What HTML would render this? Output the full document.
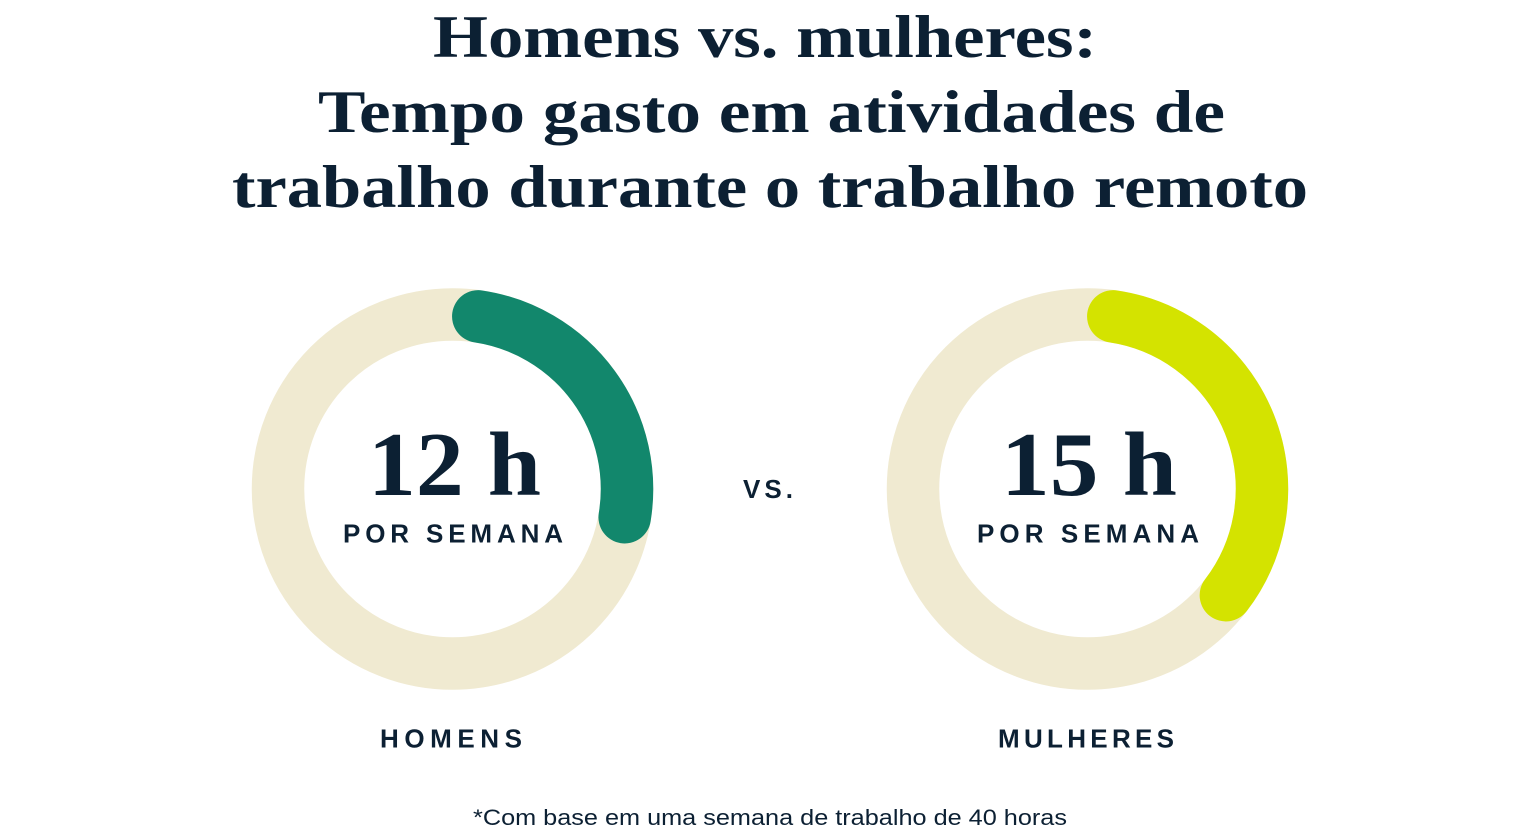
<!DOCTYPE html>
<html>
<head>
<meta charset="utf-8">
<style>
  html, body { margin: 0; padding: 0; background: #ffffff; }
  body { width: 1540px; height: 840px; overflow: hidden; }
  svg { display: block; }
  .title { font-family: "Liberation Serif", serif; font-weight: bold; font-size: 60px; fill: #0c2033; }
  .num { font-family: "Liberation Serif", serif; font-weight: bold; font-size: 91px; fill: #0c2033; }
  .lab { font-family: "Liberation Sans", sans-serif; font-weight: bold; font-size: 26px; fill: #0c2033; }
  .foot { font-family: "Liberation Sans", sans-serif; font-size: 22px; fill: #0c2033; }
</style>
</head>
<body>
<svg width="1540" height="840" viewBox="0 0 1540 840" xmlns="http://www.w3.org/2000/svg">
  <!-- Title -->
  <text class="title" x="433" y="57" textLength="664" lengthAdjust="spacingAndGlyphs">Homens vs. mulheres:</text>
  <text class="title" x="318" y="132" textLength="907" lengthAdjust="spacingAndGlyphs">Tempo gasto em atividades de</text>
  <text class="title" x="232" y="207" textLength="1076" lengthAdjust="spacingAndGlyphs">trabalho durante o trabalho remoto</text>

  <!-- Ring 1 -->
  <circle cx="452.5" cy="489" r="174.5" fill="none" stroke="#f0ead1" stroke-width="52.5"/>
  <path d="M 478.3 316.4 A 174.5 174.5 0 0 1 624.7 517.2" fill="none" stroke="#12876c" stroke-width="52.5" stroke-linecap="round"/>
  <text class="num" x="368" y="495" textLength="173" lengthAdjust="spacingAndGlyphs">12 h</text>
  <text class="lab" x="343" y="542.5" textLength="220" lengthAdjust="spacing">POR SEMANA</text>

  <!-- VS -->
  <text class="lab" x="743" y="498" textLength="50" lengthAdjust="spacing">VS.</text>

  <!-- Ring 2 -->
  <circle cx="1087.5" cy="489" r="174.5" fill="none" stroke="#f0ead1" stroke-width="52.5"/>
  <path d="M 1113.3 316.4 A 174.5 174.5 0 0 1 1225.9 595.2" fill="none" stroke="#d4e300" stroke-width="52.5" stroke-linecap="round"/>
  <text class="num" x="1001" y="495" textLength="176" lengthAdjust="spacingAndGlyphs">15 h</text>
  <text class="lab" x="977" y="542.5" textLength="222" lengthAdjust="spacing">POR SEMANA</text>

  <!-- Labels -->
  <text class="lab" x="380" y="747.7" textLength="142" lengthAdjust="spacing">HOMENS</text>
  <text class="lab" x="998" y="747.7" textLength="176" lengthAdjust="spacing">MULHERES</text>

  <!-- Footnote -->
  <text class="foot" x="473" y="825" textLength="594" lengthAdjust="spacingAndGlyphs">*Com base em uma semana de trabalho de 40 horas</text>
</svg>
</body>
</html>
